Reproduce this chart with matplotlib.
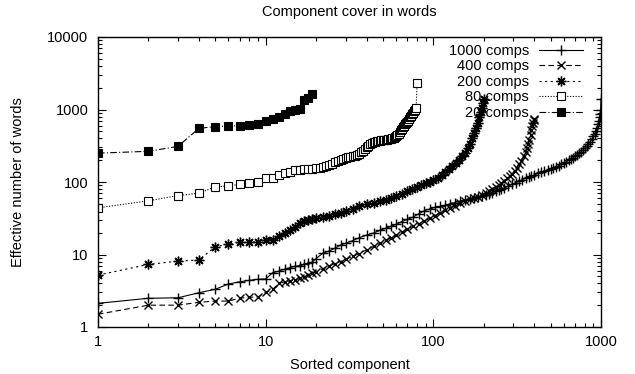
import matplotlib
matplotlib.use("Agg")
import matplotlib.pyplot as plt
import numpy as np

plt.rcParams['font.family'] = ['Liberation Sans', 'DejaVu Sans']
plt.rcParams['font.size'] = 10.5

# 1000 components
x1000 = [1, 2, 3, 4, 5, 6, 7, 8, 9, 10, 11, 12, 13, 14, 15, 16, 17, 18, 19, 20,
         22, 24, 26, 28, 30, 33, 36, 40, 44, 48, 52, 56, 60, 65, 70, 76, 82, 88, 95,
         102, 110, 118, 126, 135, 145, 155, 165, 175, 185, 195, 205, 215, 225, 235,
         245, 255, 265, 280, 295, 310, 325, 340, 355, 370, 385, 400, 420, 440, 460,
         480, 500, 520, 540, 560, 580, 600, 620, 640, 660, 680, 700, 720, 740, 760,
         780, 800, 820, 840, 860, 880, 900, 915, 930, 945, 960, 970, 980, 988, 995, 1000]
y1000 = [2.12, 2.49, 2.53, 2.97, 3.31, 3.92, 4.2, 4.4, 4.55, 4.6, 5.6, 5.9, 6.3, 6.6, 6.9,
         7.0, 7.3, 7.6, 7.9, 8.8, 10.5, 11.2, 12.3, 13.5, 14.3, 15.5, 17, 18.5, 19.8,
         21.5, 23, 24.5, 26, 28.5, 30.5, 33, 36.5, 40, 42.5, 44.5, 46, 48, 50, 52, 54.5,
         56.5, 58.5, 60.5, 62.5, 64.5, 66.5, 69, 71.5, 74, 77, 80, 83, 88, 93, 98, 103,
         108, 113, 118, 121, 125, 131, 136, 141, 146, 150, 156, 162, 168, 175, 182, 190,
         198, 207, 216, 226, 237, 249, 262, 277, 293, 311, 332, 356, 388, 425, 465, 510,
         560, 630, 700, 790, 880, 1000, 1400]

# 400 components
x400 = [1, 2, 3, 4, 5, 6, 7, 8, 9, 10, 11, 12, 13, 14, 15, 16, 17, 18, 19, 20,
        22, 24, 26, 28, 30, 33, 36, 40, 44, 48, 52, 56, 60, 65, 70, 76, 82, 88, 95,
        102, 110, 118, 126, 135, 145, 155, 165, 175, 185, 195, 205, 215, 225, 235,
        245, 255, 265, 275, 285, 295, 305, 315, 325, 335, 345, 355, 362, 368, 374,
        380, 385, 390, 394, 397, 400]
y400 = [1.5, 2.0, 2.0, 2.19, 2.28, 2.28, 2.5, 2.57, 2.6, 3.0, 3.3, 4.0, 4.2, 4.3, 4.45,
        4.7, 4.9, 5.2, 5.5, 5.8, 6.4, 7.0, 7.5, 8.0, 8.6, 9.4, 10.3, 11.6, 13.0, 14.3,
        15.7, 17.0, 18.5, 20.3, 22.2, 24.5, 26.5, 29, 31.5, 34.5, 37.5, 40.5, 43.5, 47,
        51, 54.5, 57.5, 60.5, 63, 67, 71, 75, 80, 85, 90, 96, 104, 112, 120, 130, 142,
        157, 175, 197, 225, 260, 295, 335, 385, 450, 520, 600, 660, 710, 750]

# 200 components
x200 = [1, 2, 3, 4, 5, 6, 7, 8, 9, 10, 11, 12, 13, 14, 15, 16, 17, 18, 19, 20,
        22, 24, 26, 28, 30, 33, 36, 40, 44, 48, 52, 56, 60, 65, 70, 75, 80, 85, 90,
        95, 100, 106, 112, 118, 124, 130, 136, 142, 148, 154, 160, 165, 170, 175,
        180, 184, 188, 192, 195, 198, 200]
y200 = [5.2, 7.3, 8.1, 8.4, 12.8, 13.8, 14.7, 14.7, 15.0, 16.0, 16.0, 18.0, 19.8, 21.7,
        23.9, 27, 29, 30, 31, 32, 33, 34.5, 36, 37.5, 40, 43, 46, 49, 51, 54, 57, 61,
        65, 69, 75, 80, 86, 91, 96, 101, 107, 115, 125, 137, 150, 165, 182, 200, 225,
        255, 295, 335, 400, 470, 560, 650, 780, 920, 1050, 1220, 1400]

# 80 components
x80 = list(range(1, 81))
y80 = [44, 55, 65, 70, 86, 88, 93, 96, 101, 112, 115, 125, 134, 139, 145, 148, 150, 151,
       153, 155, 158, 162, 166, 170, 178, 187, 196, 203, 210, 215, 220, 224, 228, 232,
       236, 245, 258, 270, 285, 300, 315, 330, 342, 352, 360, 365, 368, 371, 374, 376,
       378, 380, 383, 387, 392, 398, 404, 410, 416, 425, 440, 465, 490, 515, 545, 575,
       600, 625, 650, 675, 705, 740, 780, 820, 860, 900, 960, 1000, 1050, 2340]

# 20 components
x20 = list(range(1, 20))
y20 = [250, 265, 310, 550, 580, 590, 600, 605, 640, 700, 730, 800, 880, 950, 990,
       1030, 1350, 1430, 1660]

fig = plt.figure(figsize=(6.35, 3.74), dpi=100)
ax = fig.add_axes([98 / 635, 1 - 327 / 374, 503 / 635, 290 / 374])

lw = 0.8
ax.plot(x1000, y1000, color="black", lw=lw, ls="-", marker="+", ms=7, mew=1.0,
        label="1000 comps")
ax.plot(x400, y400, color="black", lw=lw, ls=(0, (5, 3)), marker="x", ms=5.5, mew=1.0,
        label="400 comps")
ax.plot(x200, y200, color="black", lw=lw, ls=(0, (2, 3)), marker=(8, 2, 0), ms=7,
        mew=1.0, label="200 comps")
ax.plot(x80, y80, color="black", lw=lw, ls=(0, (1, 1.5)), marker="s", ms=5.5, mew=0.8,
        mfc="white", label="80 comps")
ax.plot(x20, y20, color="black", lw=lw, ls=(0, (6, 2, 1, 2)), marker="s", ms=6,
        mew=0.8, mfc="black", label="20 comps")

ax.set_xscale("log")
ax.set_yscale("log")
ax.set_xlim(1, 1000)
ax.set_ylim(1, 10000)
ax.set_xticks([1, 10, 100, 1000])
ax.set_xticklabels(["1", "10", "100", "1000"])
ax.set_yticks([1, 10, 100, 1000, 10000])
ax.set_yticklabels(["1", "10", "100", "1000", "10000"])

ax.tick_params(which="both", direction="in", top=True, right=True, width=0.8)
ax.tick_params(which="major", length=6)
ax.tick_params(which="minor", length=3)
ax.tick_params(axis="y", which="major", pad=7)
ax.tick_params(axis="x", which="major", pad=6)
for s in ax.spines.values():
    s.set_linewidth(1.0)

ax.set_xlabel("Sorted component", labelpad=6)
fig.text(18 / 635, 1 - 182 / 374, "Effective number of words", rotation=90,
         ha="center", va="center")
fig.text(349.5 / 635, 1 - 12 / 374, "Component cover in words", ha="center", va="center")

ax.legend(loc="upper right", bbox_to_anchor=(0.964, 0.976), frameon=False,
          markerfirst=False, borderpad=0, handlelength=3.0, handletextpad=0.7,
          labelspacing=0.1, borderaxespad=0)

plt.savefig("out.png", dpi=100)
